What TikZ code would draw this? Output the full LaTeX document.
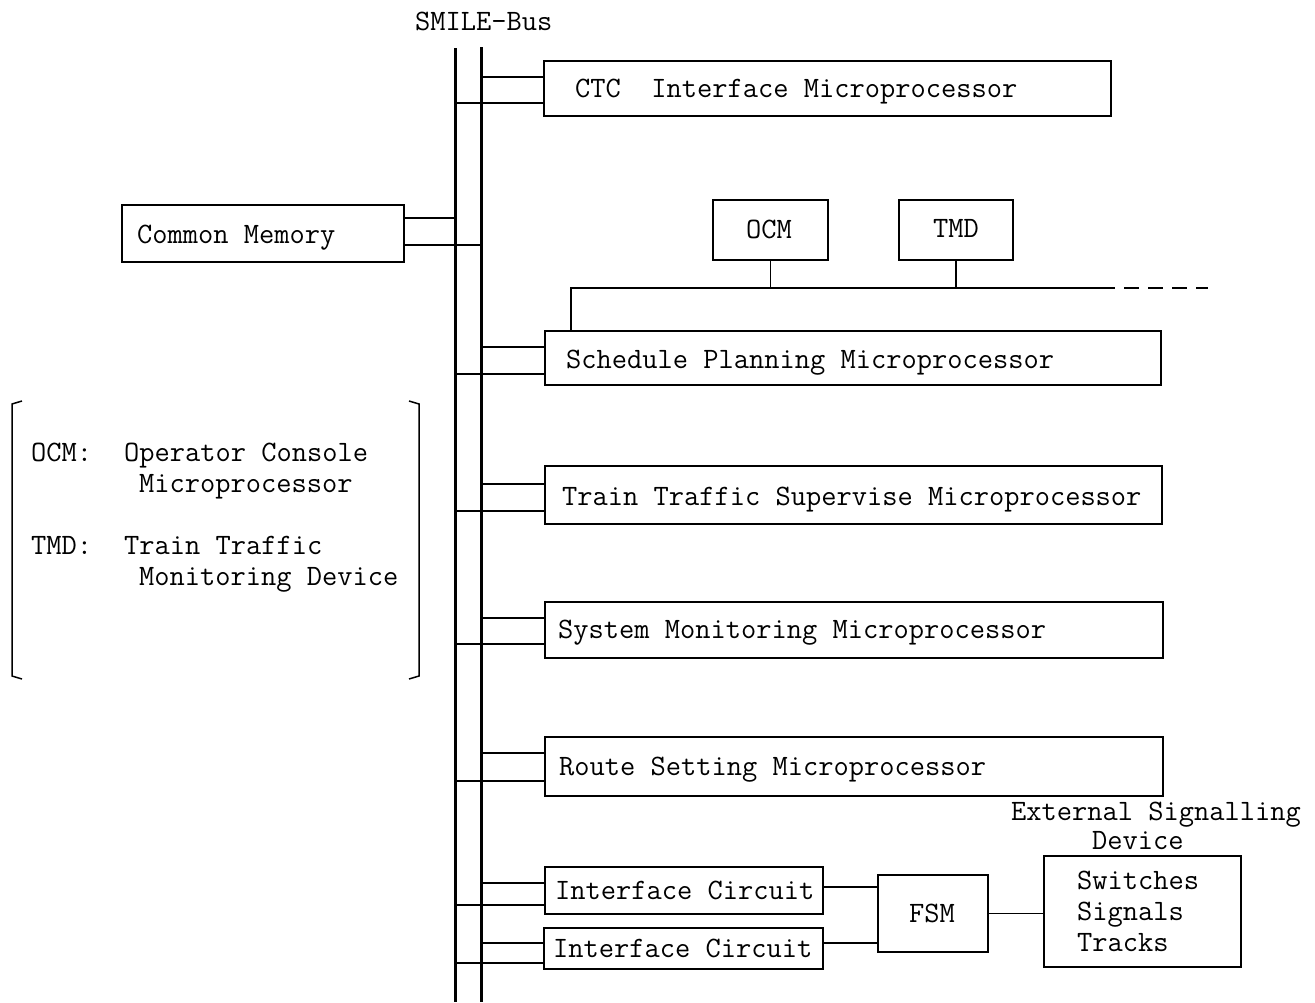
\documentclass[tikz,border=0pt]{standalone}
\usepackage{fontspec}
\begin{document}
\begin{tikzpicture}[x=1pt,y=-1pt,
  boxs/.style={draw, line width=1.5pt, inner sep=0pt, anchor=north west},
  lbl/.style={font=\ttfamily\fontsize{29.6}{34}\selectfont, inner sep=0pt,
              text height=18pt, text depth=0pt},
  wire/.style={line width=1.5pt},
  bus/.style={line width=3pt}]
\useasboundingbox (0,0) rectangle (1315,1002);

% --- the two SMILE-Bus rails
\coordinate (busL) at (455,48);  \coordinate (busLe) at (455,1002);
\coordinate (busR) at (481,47);  \coordinate (busRe) at (481,1002);
\draw[bus] (busL) -- (busLe);
\draw[bus] (busR) -- (busRe);
\node[lbl, anchor=west] (busname) at (415,21) {SMILE-Bus};

% --- modules on the bus
\node[boxs, minimum width=567pt, minimum height=55pt] (ctc) at (543,60) {};
\node[lbl, anchor=west] (ctct) at (575,88) {CTC\ \ Interface Microprocessor};

\node[boxs, minimum width=282pt, minimum height=57pt] (cm) at (121,204) {};
\node[lbl, anchor=west] (cmt) at (137,234) {Common Memory};

\node[boxs, minimum width=115pt, minimum height=60pt] (ocm) at (712,199) {};
\node[lbl] (ocmt) at (769,229) {OCM};
\node[boxs, minimum width=114pt, minimum height=60pt] (tmd) at (898,199) {};
\node[lbl] (tmdt) at (956,228) {TMD};

\node[boxs, minimum width=616pt, minimum height=54pt] (sp) at (544,330) {};
\node[lbl, anchor=west] (spt) at (566,359) {Schedule Planning Microprocessor};

\node[boxs, minimum width=617pt, minimum height=58pt] (tts) at (544,465) {};
\node[lbl, anchor=west] (ttst) at (562,496) {Train Traffic Supervise Microprocessor};

\node[boxs, minimum width=618pt, minimum height=56pt] (sm) at (544,601) {};
\node[lbl, anchor=west] (smt) at (558,629) {System Monitoring Microprocessor};

\node[boxs, minimum width=618pt, minimum height=59pt] (rs) at (544,736) {};
\node[lbl, anchor=west] (rst) at (559,766) {Route Setting Microprocessor};

\node[boxs, minimum width=278pt, minimum height=47pt] (ic1) at (544,866) {};
\node[lbl, anchor=west] (ic1t) at (555,890) {Interface Circuit};
\node[boxs, minimum width=279pt, minimum height=41pt] (ic2) at (543,927) {};
\node[lbl, anchor=west] (ic2t) at (553,948) {Interface Circuit};

\node[boxs, minimum width=110pt, minimum height=77pt] (fsm) at (877,874) {};
\node[lbl] (fsmt) at (932,913) {FSM};

\node[boxs, minimum width=197pt, minimum height=111pt] (ext) at (1043,855) {};
\node[lbl, anchor=west] (ext1) at (1077,880) {Switches};
\node[lbl, anchor=west] (ext2) at (1077,911) {Signals};
\node[lbl, anchor=west] (ext3) at (1077,942) {Tracks};
\node[lbl, anchor=west] (extn1) at (1011,811) {External Signalling};
\node[lbl, anchor=west] (extn2) at (1092,840) {Device};

% --- bus taps: upper from the right rail, lower from the left rail
\draw[wire] (busR |- 0,77)  -- (ctc.west |- 0,77);
\draw[wire] (busL |- 0,103) -- (ctc.west |- 0,103);
\draw[wire] (cm.east |- 0,218) -- (busL |- 0,218);
\draw[wire] (cm.east |- 0,245) -- (busR |- 0,245);
\draw[wire] (busR |- 0,347) -- (sp.west |- 0,347);
\draw[wire] (busL |- 0,374) -- (sp.west |- 0,374);
\draw[wire] (busR |- 0,484) -- (tts.west |- 0,484);
\draw[wire] (busL |- 0,511) -- (tts.west |- 0,511);
\draw[wire] (busR |- 0,618) -- (sm.west |- 0,618);
\draw[wire] (busL |- 0,644) -- (sm.west |- 0,644);
\draw[wire] (busR |- 0,753) -- (rs.west |- 0,753);
\draw[wire] (busL |- 0,781) -- (rs.west |- 0,781);
\draw[wire] (busR |- 0,883) -- (ic1.west |- 0,883);
\draw[wire] (busL |- 0,905) -- (ic1.west |- 0,905);
\draw[wire] (busR |- 0,943) -- (ic2.west |- 0,943);
\draw[wire] (busL |- 0,963) -- (ic2.west |- 0,963);

% --- console line above the planning module
\coordinate (tl) at (571,288);
\coordinate (tr) at (1115,288);
\coordinate (te) at (1208,288);
\draw[wire] (sp.north -| tl) -- (tl) -- (tr);
\draw[wire, dash pattern=on 15pt off 9pt, dash phase=15pt] (tr) -- (te);
\draw[wire] (ocm.south) -- (ocm.south |- tl);
\draw[wire] (tmd.south) -- (tmd.south |- tl);

% --- interface circuits to FSM to the field devices
\draw[wire] (ic1.east |- 0,887) -- (fsm.west |- 0,887);
\draw[wire] (ic2.east |- 0,943) -- (fsm.west |- 0,943);
\draw[wire] (fsm.east) -- (ext.west |- fsm.east);

% --- legend in brackets
\draw[wire] (22,401) -- (12,404) -- (12,676) -- (22,679);
\draw[wire] (409,401) -- (419,404) -- (419,676) -- (409,679);
\node[lbl, anchor=west] (k1) at (31,452) {OCM:};
\node[lbl, anchor=west] (k1a) at (124,452) {Operator Console};
\node[lbl, anchor=west] (k1b) at (139,483) {Microprocessor};
\node[lbl, anchor=west] (k2) at (31,545) {TMD:};
\node[lbl, anchor=west] (k2a) at (124,545) {Train Traffic};
\node[lbl, anchor=west] (k2b) at (139,576) {Monitoring Device};
\end{tikzpicture}
\end{document}
